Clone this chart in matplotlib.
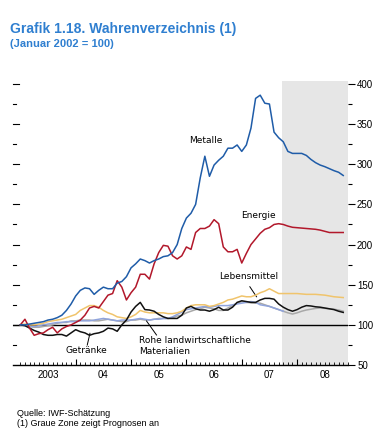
#Commodity price indices, Jan 2002 = 100, with forecast zone

import numpy as np
from matplotlib import pyplot as plt

# monthly values, starting January 2003
metalle = [100, 100, 101, 102, 103, 104, 106, 107, 109, 112, 118, 126,
           136, 143, 146, 145, 138, 143, 147, 145, 145, 152, 154, 160,
           171, 176, 182, 180, 177, 180, 182, 185, 186, 190, 200, 220,
           233, 239, 250, 283, 310, 285, 299, 305, 310, 320, 320, 324,
           316, 324, 345, 382, 386, 376, 375, 340, 333, 328, 316, 313.5,
           313.5, 313.5, 311, 306, 302, 299, 297, 294.5, 292, 290, 286]
energie = [100, 107, 96, 87, 89, 90, 94, 97, 90, 95, 98, 100,
           103, 106, 112, 121, 123, 121, 129, 137, 139, 155, 147, 131,
           140, 147, 163, 163, 157, 176, 190, 199, 198, 186, 182, 186,
           197, 194, 215, 220, 220, 223, 231, 226, 197, 191, 191, 194,
           177, 189, 200, 207, 214, 219, 221, 225, 226, 225, 223, 221.5,
           221, 220.5, 220, 219.5, 219, 218, 216.5, 215, 215, 215, 215]
lebensmittel = [100, 101, 100, 100, 101, 102, 104, 105, 106, 107, 109, 111,
                113, 118, 121, 124, 124, 122, 118, 115, 113, 110, 109, 108,
                110, 113, 118, 116, 115, 115, 115, 115, 114, 114, 115, 117,
                121, 124, 125, 125, 125, 123, 124, 126, 128, 131, 132, 134,
                136, 135, 135, 137, 140, 142, 145, 142, 139, 139, 139, 139,
                139, 138.5, 138, 138, 138, 137.5, 137, 136, 135, 134.5, 134]
getraenke = [100, 99, 96, 93, 91, 88, 87, 87, 88, 88, 86, 90,
             94, 91.5, 90, 87, 89, 90, 92, 96, 95, 92, 100, 106,
             116, 123, 128, 119, 118.5, 117, 113, 110, 108, 108, 108, 112,
             121, 123, 120, 118.5, 118.5, 117, 119, 122, 118.5, 118.5, 122, 128,
             130, 129, 128, 128, 131, 133, 133, 132, 126, 122, 119, 117,
             119, 122, 124, 123.5, 122.5, 122, 121, 120, 119, 117, 115.5]
grau = [100, 100, 98, 97, 97, 98, 99, 100, 102, 103, 103, 105,
        105, 106, 106, 106, 105, 105, 106, 107, 106, 105, 104, 104,
        106, 106, 107, 106, 106, 107, 108, 108, 108, 109, 111, 112,
        115, 117, 119, 120, 122, 121, 120, 118, 118, 121, 124, 127,
        129, 128, 127.5, 127, 127, 125, 123, 121, 119, 117, 115, 113.5,
        115, 117, 118.5, 119.5, 120.5, 121, 120.5, 120, 119.5, 118.5, 117]
rohstoffe = [100, 100, 98, 98, 99, 100, 101, 102, 103, 103, 104, 104,
             104, 105, 105, 105, 106, 107, 108, 107, 106, 105, 106, 106,
             106, 107, 108, 107, 106, 107, 107, 108, 108, 110, 113, 116,
             119, 120, 121, 122, 123, 122, 123, 124, 124, 124, 125, 126,
             127, 128, 129, 128, 125, 124, 123, 121, 119, 117]

year_labels = ['2003', '04', '05', '06', '07', '08']
forecast_start = 2007.72

def months(series):
    return 2003 + np.arange(len(series)) / 12.0

fig = plt.figure(figsize=(3.83, 4.47), dpi=100)
ax = fig.add_axes([0.034, 0.1834, 0.8747, 0.636])

ax.axvspan(forecast_start, 2008.92, color='#e6e6e6', lw=0, zorder=0)
ax.axhline(100, color='black', lw=1.0, zorder=1)

ax.plot(months(grau), grau, color='#a8a8a8', lw=1.1, zorder=2)
ax.plot(months(rohstoffe), rohstoffe, color='#90a4dc', lw=1.1, zorder=2)
ax.plot(months(lebensmittel), lebensmittel, color='#f0c46c', lw=1.1, zorder=3)
ax.plot(months(getraenke), getraenke, color='#111111', lw=1.1, zorder=4)
ax.plot(months(energie), energie, color='#b2182b', lw=1.1, zorder=5)
ax.plot(months(metalle), metalle, color='#1f5ca8', lw=1.1, zorder=6)

ax.set_xlim(2002.868, 2008.92)
ax.set_ylim(50, 404)

for s in ['top', 'left', 'right']:
    ax.spines[s].set_visible(False)
ax.spines['bottom'].set_linewidth(1.0)

# x axis: yearly ticks, monthly minor ticks, labels in the middle of the year
ax.set_xticks(np.arange(2004, 2009))
ax.set_xticks(np.arange(2003, 2009, 1 / 12.0), minor=True)
ax.tick_params(axis='x', which='major', direction='in', length=4, width=0.8, labelbottom=False)
ax.tick_params(axis='x', which='minor', direction='in', length=2.2, width=0.6)
for i, lab in enumerate(year_labels):
    ax.text(2003.5 + i, 38, lab, ha='center', va='center', fontsize=7,
            family='Liberation Sans')

# right axis labels, left axis only ticks
ax.yaxis.tick_right()
ax.set_yticks(np.arange(50, 401, 50))
ax.set_yticks(np.arange(75, 400, 50), minor=True)
ax.tick_params(axis='y', which='major', direction='out', length=5, width=0.8,
               labelsize=7, pad=1.5, right=True, left=False)
ax.tick_params(axis='y', which='minor', direction='out', length=3, width=0.8, right=True)
for lab in ax.get_yticklabels():
    lab.set_family('Liberation Sans')

for v in np.arange(75, 401, 25):
    ln = 0.017 if v % 50 == 0 else 0.01
    ax.plot([0, ln], [v, v], transform=ax.get_yaxis_transform(), color='black',
            lw=0.8, clip_on=False)

lab_kw = dict(fontsize=6.5, family='DejaVu Sans', color='black', va='center', ha='left')
ax.text(2006.045, 329, 'Metalle', **lab_kw)
ax.text(2006.98, 235.6, 'Energie', **lab_kw)
ax.text(2006.59, 160, 'Lebensmittel', **lab_kw)
ax.text(2003.807, 68.7, 'Getränke', **lab_kw)
ax.text(2005.148, 81.1, 'Rohe landwirtschaftliche', **lab_kw)
ax.text(2005.148, 67.4, 'Materialien', **lab_kw)
ax.plot([2007.146, 2007.267], [147.5, 135], color='black', lw=0.7)
ax.plot([2004.209, 2004.258], [74.9, 89.5], color='black', lw=0.7)
ax.plot([2005.28, 2005.46], [104.8, 87.4], color='black', lw=0.7)

fig.text(10 / 383, 1 - 29 / 447, 'Grafik 1.18. Wahrenverzeichnis (1)', color='#2f7fd0',
         fontsize=10, fontweight='bold', family='Liberation Sans', va='center')
fig.text(10 / 383, 1 - 44 / 447, '(Januar 2002 = 100)', color='#2f7fd0',
         fontsize=8, fontweight='bold', family='Liberation Sans', va='center')
fig.text(17 / 383, 1 - 413 / 447, 'Quelle: IWF-Schätzung', fontsize=6.5,
         family='Liberation Sans', va='center')
fig.text(17 / 383, 1 - 424 / 447, '(1) Graue Zone zeigt Prognosen an', fontsize=6.5,
         family='Liberation Sans', va='center')

fig.savefig('out.png', dpi=100)
